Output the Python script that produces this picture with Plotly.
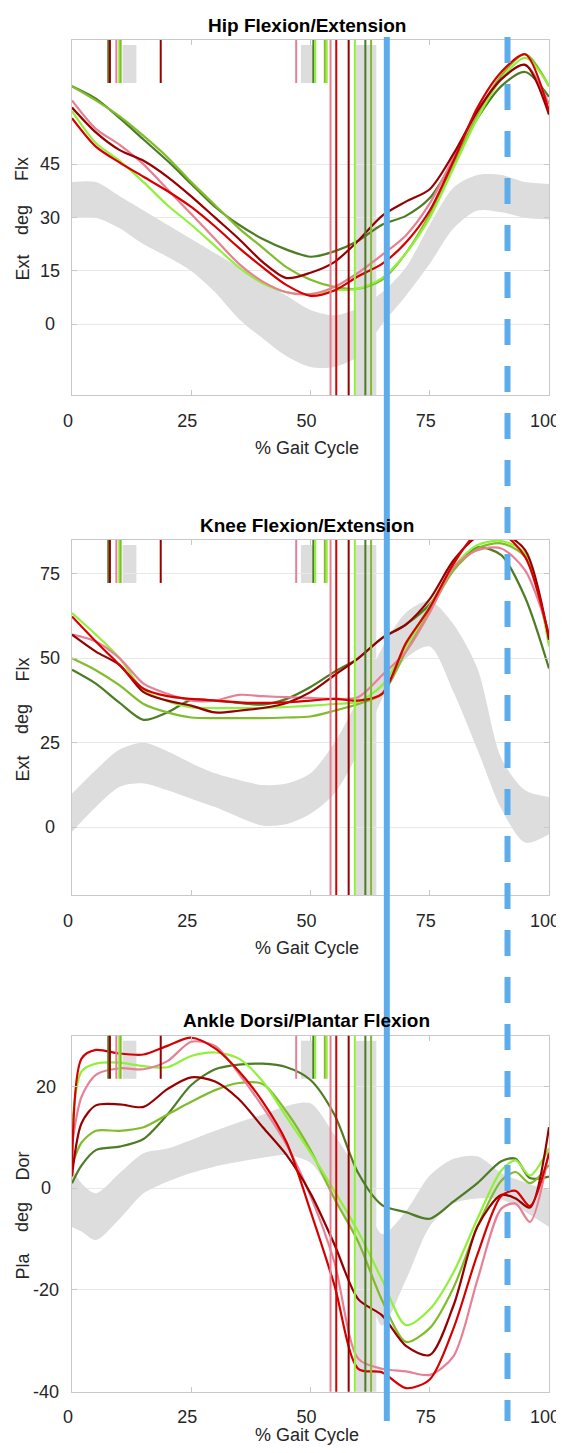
import plotly.graph_objects as go

# sample points (% gait cycle)
x_hip = list(range(0, 101, 5))
x_knee = list(range(0, 101, 5))
x_ank = [0, 2, 5, 10, 15, 20, 25, 30, 35, 40, 45, 50, 55, 60, 65, 70, 75, 80, 85, 90, 93, 96, 100]

# Hip flexion/extension (deg)
hip_red = [58, 50, 45.5, 41.5, 37.5, 33, 27.5, 21.5, 16, 11, 8, 9.5, 13.5, 17, 23, 32, 46, 61, 71, 76, 60]
hip_dred = [61, 54, 49, 46, 41.5, 36, 30, 24, 17.5, 13, 14.5, 17.5, 23.5, 30.5, 34.5, 38, 48, 60, 69, 73, 59]
hip_pink = [63, 55, 50.5, 45, 38, 31, 24, 17, 12, 9, 8.5, 10.5, 14.5, 19.5, 25, 34, 47, 60, 69, 73, 62]
hip_lgreen = [60, 51, 46, 40, 33.5, 28, 22, 16, 11.5, 9, 8.5, 9.5, 10, 13, 20, 30, 44, 58, 69, 75, 67]
hip_olive = [67, 63, 58.5, 53, 47, 40, 33.5, 27, 21.5, 16, 12.5, 10.5, 10, 12.5, 20, 31, 45, 59, 70, 76, 67]
hip_dgreen = [67, 63.5, 58, 52, 46, 39.5, 33, 28, 24, 21, 19, 20.5, 23.5, 28, 30.5, 35.5, 46, 58, 67, 71, 64]
hip_band_hi = [40, 40, 36, 32, 28, 24, 20, 16, 12, 8, 4, 2.5, 4.5, 9, 16, 28, 38.5, 42, 42, 40, 39.5]
hip_band_lo = [30, 30, 27, 22.5, 19, 15, 9, 1.5, -4, -9, -12, -12, -9, 0, 8, 17, 27, 32, 31.5, 30, 29.5]

# Knee flexion/extension (deg)
knee_red = [62.4, 55, 48, 41, 38.8, 38, 37.5, 37, 36.8, 37, 37.5, 38, 37.5, 39.5, 54.5, 65, 78, 87, 87, 80, 56.5]
knee_dred = [57, 52, 48, 40, 37.5, 36, 34, 34.5, 35.3, 36.8, 40, 45, 50, 56, 60, 67.5, 79, 86, 87, 82, 55.5]
knee_pink = [57, 55, 50, 42.5, 39.5, 37.5, 37.5, 39.2, 38.8, 38.5, 38.3, 38, 38.5, 45, 52, 63.5, 77, 82, 82.5, 76, 57.5]
knee_lgreen = [63.4, 57, 50, 40.5, 37.3, 35.5, 35.3, 35.3, 35.3, 35.6, 36, 36.5, 37.2, 42, 53.5, 65.5, 77, 83.5, 84.7, 81, 53.5]
knee_olive = [50, 46.5, 42, 36.5, 34, 32.5, 32.3, 32.3, 32.3, 32.5, 32.8, 34.5, 36.5, 39.5, 52, 64, 76, 82.5, 84, 80, 55]
knee_dgreen = [46.6, 42.5, 36.8, 31.8, 34, 37.7, 37.5, 36.8, 36.3, 38, 41.5, 46, 50, 56, 60, 66, 76.5, 82.8, 80.5, 68, 47]
knee_band_hi = [10, 17, 23, 25, 22.5, 19, 16, 14, 12.5, 13, 16, 25, 38, 53, 63.5, 67, 60, 47, 20.5, 11, 9]
knee_band_lo = [-1.3, 6, 12, 13, 11, 8.5, 6, 3, 0.5, 1, 4, 10, 22, 38, 50, 53.5, 40, 23, 5.5, -4.5, -2]

# Ankle dorsi/plantar flexion (deg)
ank_red = [2.3, 25.5, 27.2, 26.5, 26.3, 28, 29.6, 27.5, 23, 17, 9, -4.5, -19, -35.5, -36.2, -39.3, -37.6, -27.5, -13, -1.5, -0.5, -3.5, 6.9]
ank_dred = [2.5, 12.8, 16.3, 16.5, 16, 19.5, 21.8, 21, 17.5, 12, 6.5, -1, -11, -21.8, -25, -31, -32.8, -23, -7.5, -1.3, -2, -3.8, 12]
ank_pink = [8.5, 18, 22.3, 23.6, 23.4, 25, 28.8, 28, 22.5, 16, 8.5, -1.5, -14.5, -33.5, -35.5, -36, -36.7, -33, -18, -4, -3, -6.6, 7.2]
ank_lgreen = [12, 23, 24.5, 24.7, 24, 23.8, 26, 26.7, 25.5, 21, 14, 7, -0.5, -8.5, -18, -26.9, -23.8, -16.5, -6, 3.5, 5.5, 2.5, 7.9]
ank_olive = [4.5, 9, 11.3, 11.3, 12, 14.5, 17, 19.3, 20.7, 20.5, 15, 7.5, -2, -10.5, -22, -30.2, -27.5, -19.5, -7.5, 1.5, 3.2, 1, 4.6]
ank_dgreen = [1, 4.5, 7.5, 8.2, 9.7, 14.5, 20.3, 23.4, 24.3, 24.5, 23.8, 21.3, 14.5, 3, -3.3, -4.7, -6, -2.6, 1, 5.3, 5.8, 2, 2.3]
ank_band_hi = [4, 1, -1, 3, 6.9, 7.8, 9.5, 11.3, 13, 14.5, 16.2, 16.7, 10.5, 3, -9, -4.5, 2.5, 5.8, 6.3, 3, 1.8, 0.8, -0.3]
ank_band_lo = [-7.6, -8.5, -10.2, -6, -1, 1.3, 3, 4.3, 5.2, 6, 6.5, 5, -2, -11, -27, -18, -7.5, -3, -2, -2.2, -3.5, -5.2, -7.6]

# gait events (% gait cycle)
ev_short_x = [7.6, 7.95, 9.3, 9.9, 10.2, 18.6, 47.0, 50.6, 51.0, 53.0, 53.4]
ev_short_col = ['dgreen', 'dred', 'pink', 'lgreen', 'olive', 'dred', 'pink', 'dgreen', 'lgreen', 'olive', 'lgreen']
ev_long_x = [54.2, 55.4, 58.0, 59.3, 61.5, 62.7]
ev_long_col = ['pink', 'red', 'dred', 'lgreen', 'dgreen', 'olive']
norm_short = [(10.6, 13.5), (48.0, 50.8)]
norm_long = (59.5, 63.8)
blue_solid = 66.0
blue_dash = 91.3

cols = {
    'red': 'rgb(214,0,0)',
    'dred': 'rgb(150,0,0)',
    'pink': 'rgb(231,128,148)',
    'lgreen': 'rgb(145,240,60)',
    'olive': 'rgb(128,188,44)',
    'dgreen': 'rgb(76,124,36)',
}
grey = 'rgb(221,221,221)'
blue = 'rgb(93,173,236)'
txt = '#262626'
FONT = 'Liberation Sans, Arial, Helvetica, sans-serif'

# page is drawn with the browser's 8px body margin, so the figure is placed at (8, 8)
OFF = 8
W, H = 564 - OFF, 1453 - 2 * OFF
L, R = 72, 549   # plot area edges in page pixels


def px(xp):
    return (xp - L) / (R - L)


def py(yp):
    return 1 - (yp - OFF) / H


panels = [
    dict(title='Hip Flexion/Extension', x=x_hip, hi=hip_band_hi, lo=hip_band_lo,
         curves=[('dgreen', hip_dgreen), ('olive', hip_olive), ('lgreen', hip_lgreen),
                 ('pink', hip_pink), ('dred', hip_dred), ('red', hip_red)],
         yr=[-20, 80], yt=[0, 15, 30, 45], words=('Flx', 'deg', 'Ext'),
         top=40, bot=395.3, ty=25, xty=447.5, tickx=50, wy=(169, 220, 267.5)),
    dict(title='Knee Flexion/Extension', x=x_knee, hi=knee_band_hi, lo=knee_band_lo,
         curves=[('dgreen', knee_dgreen), ('olive', knee_olive), ('lgreen', knee_lgreen),
                 ('pink', knee_pink), ('dred', knee_dred), ('red', knee_red)],
         yr=[-20, 85], yt=[0, 25, 50, 75], words=('Flx', 'deg', 'Ext'),
         top=540, bot=895, ty=525, xty=947.5, tickx=50, wy=(669.5, 719, 768.5)),
    dict(title='Ankle Dorsi/Plantar Flexion', x=x_ank, hi=ank_band_hi, lo=ank_band_lo,
         curves=[('dgreen', ank_dgreen), ('olive', ank_olive), ('lgreen', ank_lgreen),
                 ('pink', ank_pink), ('dred', ank_dred), ('red', ank_red)],
         yr=[-40, 30], yt=[-40, -20, 0, 20], words=('Dor', 'deg', 'Pla'),
         top=1035.7, bot=1391.7, ty=1020, xty=1434.5, tickx=46, wy=(1166.5, 1217, 1266.5)),
]

fig = go.Figure()
shapes = []
annotations = []

for i, p in enumerate(panels, start=1):
    xa = 'x' if i == 1 else 'x%d' % i
    ya = 'y' if i == 1 else 'y%d' % i

    # normative band
    fig.add_trace(go.Scatter(x=p['x'], y=p['lo'], mode='lines', xaxis=xa, yaxis=ya,
                             line=dict(width=0, shape='spline', smoothing=0.8),
                             showlegend=False, hoverinfo='skip'))
    fig.add_trace(go.Scatter(x=p['x'], y=p['hi'], mode='lines', xaxis=xa, yaxis=ya,
                             fill='tonexty', fillcolor=grey,
                             line=dict(width=0, shape='spline', smoothing=0.8),
                             showlegend=False, hoverinfo='skip'))
    for c, ys in p['curves']:
        fig.add_trace(go.Scatter(x=p['x'], y=ys, mode='lines', xaxis=xa, yaxis=ya,
                                 line=dict(color=cols[c], width=2.2, shape='spline', smoothing=0.8),
                                 showlegend=False))

    yd = ya + ' domain'
    for a, b in norm_short:
        shapes.append(dict(type='rect', xref=xa, yref=yd, x0=a, x1=b, y0=0.879, y1=0.986,
                           fillcolor=grey, line=dict(width=0), layer='below'))
    shapes.append(dict(type='rect', xref=xa, yref=yd, x0=norm_long[0], x1=norm_long[1],
                       y0=0, y1=0.986, fillcolor=grey, line=dict(width=0), layer='below'))
    for xv, c in zip(ev_short_x, ev_short_col):
        shapes.append(dict(type='line', xref=xa, yref=yd, x0=xv, x1=xv, y0=0.879, y1=1,
                           line=dict(color=cols[c], width=2), layer='above'))
    for xv, c in zip(ev_long_x, ev_long_col):
        shapes.append(dict(type='line', xref=xa, yref=yd, x0=xv, x1=xv, y0=0, y1=1,
                           line=dict(color=cols[c], width=2), layer='above'))

    dom = [py(p['bot']), py(p['top'])]
    axis_common = dict(showline=True, linecolor='rgb(200,200,200)', linewidth=1, mirror='ticks',
                       ticks='inside', ticklen=5, tickcolor='rgb(200,200,200)', zeroline=False)
    fig.layout[('xaxis' if i == 1 else 'xaxis%d' % i)] = dict(
        domain=[0, 1], anchor=ya, range=[0, 100], tickvals=[0, 25, 50, 75, 100],
        showgrid=False, tickfont=dict(size=18, color=txt, family=FONT),
        ticklabelstandoff=9, ticklabelshift=-4, ticklabeloverflow='allow',
        automargin=False, **axis_common)
    fig.layout[('yaxis' if i == 1 else 'yaxis%d' % i)] = dict(
        domain=dom, anchor=xa, range=p['yr'], tickvals=p['yt'], showticklabels=False,
        showgrid=True, gridcolor='rgb(232,232,232)', gridwidth=1, automargin=False,
        **axis_common)

    for v in p['yt']:
        annotations.append(dict(xref='paper', yref=ya, x=px(p['tickx']), y=v, text=str(v),
                                showarrow=False, xanchor='center', yanchor='middle',
                                font=dict(size=18, color=txt, family=FONT)))
    for w, wy in zip(p['words'], p['wy']):
        annotations.append(dict(xref='paper', yref='paper', x=px(22), y=py(wy), text=w,
                                textangle=-90, showarrow=False, xanchor='center', yanchor='middle',
                                font=dict(size=18, color=txt, family=FONT)))
    annotations.append(dict(xref='paper', yref='paper', x=px(306.5), y=py(p['ty']),
                            text='<b>%s</b>' % p['title'], showarrow=False,
                            xanchor='center', yanchor='middle',
                            font=dict(size=19, color='black', family=FONT)))
    annotations.append(dict(xref='paper', yref='paper', x=px(307), y=py(p['xty']),
                            text='% Gait Cycle', showarrow=False,
                            xanchor='center', yanchor='middle',
                            font=dict(size=18, color=txt, family=FONT)))

# stride markers running through all panels
shapes.append(dict(type='line', xref='x', yref='paper', x0=blue_solid, x1=blue_solid,
                   y0=py(37), y1=py(1421), line=dict(color=blue, width=6), layer='above'))
shapes.append(dict(type='line', xref='x', yref='paper', x0=blue_dash, x1=blue_dash,
                   y0=py(37), y1=py(1421), line=dict(color=blue, width=6, dash='26px,21px'),
                   layer='above'))

fig.update_layout(
    width=W, height=H,
    margin=dict(l=L - OFF, r=W - (R - OFF), t=0, b=0, autoexpand=False),
    paper_bgcolor='white', plot_bgcolor='white',
    shapes=shapes, annotations=annotations,
    font=dict(family=FONT, color=txt),
    showlegend=False,
)

fig.write_html("out.html")
